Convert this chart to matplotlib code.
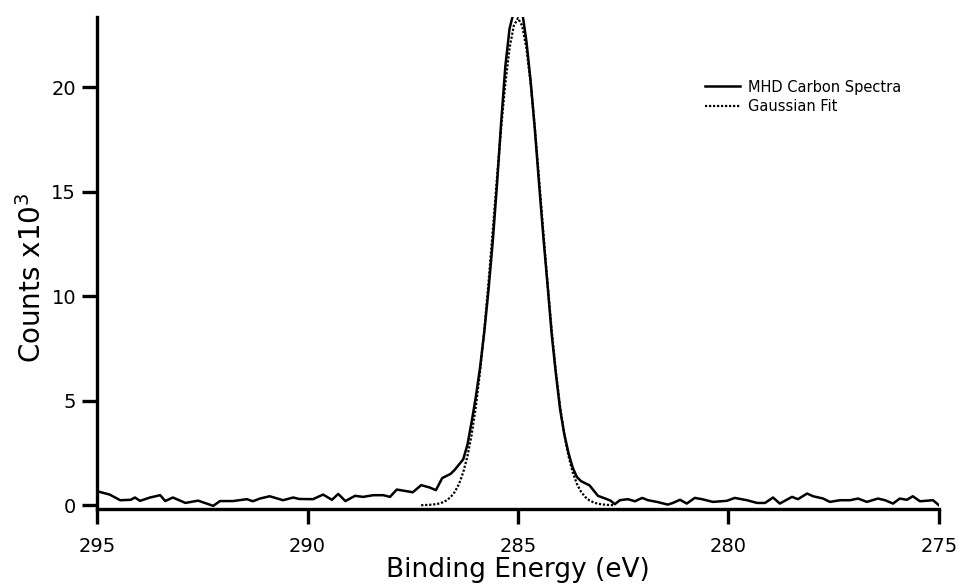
import matplotlib
matplotlib.use("Agg")
import matplotlib.pyplot as plt

# C 1s spectrum (binding energy in eV, counts in thousands)
energy = [295.0, 294.7, 294.45, 294.2, 294.1, 293.98, 293.74, 293.5, 293.38, 293.2,
          292.9, 292.6, 292.24, 292.08, 291.77, 291.44, 291.3, 291.13, 290.9, 290.58,
          290.34, 290.2, 289.87, 289.63, 289.42, 289.27, 289.1, 288.87, 288.68, 288.44,
          288.2, 288.04, 287.88, 287.64, 287.5, 287.3, 287.1, 286.95, 286.8, 286.6,
          286.5, 286.3, 286.2, 286.1, 286.0, 285.9, 285.8, 285.7, 285.6, 285.5,
          285.4, 285.3, 285.2, 285.1, 285.0, 284.9, 284.8, 284.7, 284.6, 284.5,
          284.4, 284.3, 284.2, 284.1, 284.0, 283.9, 283.8, 283.7, 283.6, 283.5,
          283.3, 283.1, 282.9, 282.8, 282.7, 282.58, 282.39, 282.22, 282.05, 281.91,
          281.7, 281.44, 281.32, 281.15, 280.99, 280.8, 280.63, 280.37, 280.04, 279.85,
          279.56, 279.32, 279.13, 278.94, 278.78, 278.49, 278.35, 278.13, 277.99, 277.75,
          277.59, 277.35, 277.11, 276.92, 276.71, 276.45, 276.28, 276.09, 275.93, 275.76,
          275.62, 275.45, 275.14, 275.0]
counts = [0.67, 0.51, 0.24, 0.26, 0.37, 0.21, 0.37, 0.48, 0.20, 0.37,
          0.11, 0.22, -0.03, 0.20, 0.20, 0.29, 0.19, 0.32, 0.43, 0.24,
          0.37, 0.30, 0.29, 0.51, 0.26, 0.54, 0.20, 0.45, 0.40, 0.48,
          0.48, 0.40, 0.75, 0.67, 0.62, 0.96, 0.85, 0.72, 1.30, 1.50,
          1.70, 2.20, 2.90, 4.00, 5.20, 6.60, 8.30, 10.3, 12.6, 15.3,
          18.3, 21.0, 22.8, 23.6, 24.2, 23.6, 22.2, 20.3, 18.0, 15.4,
          12.9, 10.6, 8.2, 6.3, 4.6, 3.4, 2.5, 1.8, 1.35, 1.15,
          0.95, 0.45, 0.30, 0.22, 0.05, 0.24, 0.29, 0.19, 0.35, 0.24,
          0.16, 0.03, 0.11, 0.26, 0.08, 0.35, 0.29, 0.16, 0.21, 0.35,
          0.24, 0.11, 0.11, 0.37, 0.08, 0.40, 0.29, 0.56, 0.43, 0.32,
          0.16, 0.24, 0.24, 0.32, 0.16, 0.32, 0.24, 0.08, 0.32, 0.26,
          0.43, 0.19, 0.24, 0.00]

# Gaussian fit of the main peak
fit_energy = [287.3, 287.2, 287.1, 287.0, 286.9, 286.8, 286.7, 286.6, 286.5, 286.4,
              286.3, 286.2, 286.1, 286.0, 285.9, 285.8, 285.7, 285.6, 285.5, 285.4,
              285.3, 285.2, 285.1, 285.0, 284.9, 284.8, 284.7, 284.6, 284.5, 284.4,
              284.3, 284.2, 284.1, 284.0, 283.9, 283.8, 283.7, 283.6, 283.5, 283.4,
              283.3, 283.2, 283.1, 283.0, 282.9, 282.8, 282.7]
fit_counts = [0.00, 0.01, 0.02, 0.04, 0.07, 0.13, 0.23, 0.39, 0.64, 1.02,
              1.58, 2.35, 3.38, 4.73, 6.40, 8.40, 10.67, 13.12, 15.64, 18.05,
              20.18, 21.86, 22.93, 23.30, 22.93, 21.86, 20.18, 18.05, 15.64, 13.12,
              10.67, 8.40, 6.40, 4.73, 3.38, 2.35, 1.58, 1.02, 0.64, 0.39,
              0.23, 0.13, 0.07, 0.04, 0.02, 0.01, 0.00]

xticks = [295, 290, 285, 280, 275]
yticks = [0, 5, 10, 15, 20]

plt.rcParams['font.family'] = ['DejaVu Sans']

fig = plt.figure(figsize=(9.61, 5.88), dpi=100)
ax = fig.add_axes([0.101, 0.134, 0.876, 0.837])

ax.plot(energy, counts, color='black', lw=1.8, label='MHD Carbon Spectra')
ax.plot(fit_energy, fit_counts, color='black', lw=1.6, ls=(0, (1, 0.8)),
        label='Gaussian Fit')

ax.set_xlim(295, 275)
ax.set_ylim(-0.19, 23.35)
ax.set_xticks(xticks)
ax.set_yticks(yticks)

for side in ['top', 'right']:
    ax.spines[side].set_visible(False)
for side in ['left', 'bottom']:
    ax.spines[side].set_linewidth(2.4)

ax.tick_params(axis='x', direction='out', length=11, width=2.4, labelsize=14, pad=9)
ax.tick_params(axis='y', direction='out', length=11, width=2.4, labelsize=14, pad=4)

ax.set_xlabel('Binding Energy (eV)', fontsize=19, labelpad=1)
ax.set_ylabel(r'Counts x10$^\mathregular{3}$', fontsize=20)
ax.yaxis.set_label_coords(-0.059, 0.47)

ax.legend(loc='center left', bbox_to_anchor=(0.722, 0.838), frameon=False,
          borderpad=0, borderaxespad=0, fontsize=10.5, handlelength=2.4,
          handletextpad=0.55, labelspacing=0.3)

fig.savefig('out.png', dpi=100)
